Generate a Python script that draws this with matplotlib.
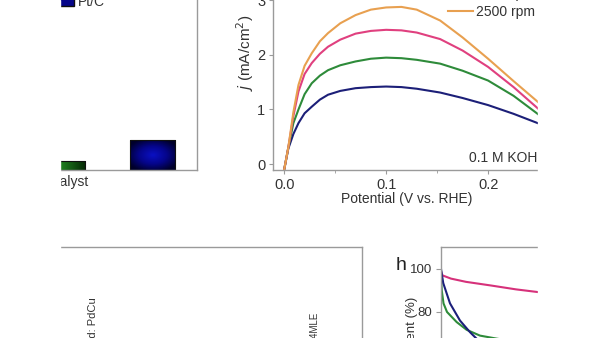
import numpy as np
import matplotlib
matplotlib.use("Agg")
import matplotlib.pyplot as plt
from matplotlib.patches import Rectangle, Patch
from matplotlib.colors import LinearSegmentedColormap

plt.rcParams['font.family'] = ['Liberation Sans', 'DejaVu Sans']

# bar panel (left, mostly cropped)
catalysts = ['PdCu/C', 'Pt/C']
activity = [0.045, 0.15]
bar_colors = ['#1f7a1f', '#06068a']

# RDE polarisation curves (top right)
potential = [0, 0.004, 0.009, 0.014, 0.02, 0.027, 0.035, 0.043, 0.055, 0.07,
             0.085, 0.1, 0.115, 0.13, 0.153, 0.175, 0.2, 0.225, 0.25]
j_400 = [-0.1, 0.28, 0.55, 0.75, 0.93, 1.05, 1.18, 1.27, 1.34, 1.39,
         1.41, 1.42, 1.41, 1.38, 1.31, 1.21, 1.08, 0.92, 0.74]
j_900 = [-0.1, 0.3, 0.75, 1.0, 1.28, 1.48, 1.62, 1.72, 1.81, 1.88,
         1.93, 1.95, 1.94, 1.91, 1.84, 1.71, 1.53, 1.25, 0.9]
j_1600 = [-0.1, 0.3, 0.88, 1.33, 1.65, 1.85, 2.02, 2.15, 2.28, 2.39,
          2.44, 2.46, 2.45, 2.41, 2.29, 2.08, 1.78, 1.41, 1.0]
j_2500 = [-0.1, 0.3, 0.95, 1.45, 1.8, 2.03, 2.25, 2.4, 2.58, 2.73,
          2.83, 2.87, 2.88, 2.83, 2.63, 2.32, 1.93, 1.52, 1.12]
rpm_labels = ['400 rpm', '900 rpm', '1600 rpm', '2500 rpm']
rpm_colors = ['#1c1f78', '#2e8b3a', '#e0407f', '#e8a050']

# stability curves (bottom right)
t_pink = [0, 300, 2000, 5000, 10000, 15000, 19200, 22000]
cur_pink = [99, 97, 95.5, 94, 92.3, 90.5, 89.3, 88.6]
t_navy = [0, 450, 1800, 3800, 5800, 7100, 9000]
cur_navy = [100, 93.4, 84, 76, 70.6, 67.6, 64]
t_green = [0, 150, 500, 1200, 3130, 5130, 7800, 11130, 14000]
cur_green = [97, 90, 84, 80, 75.3, 71.7, 69, 67.6, 66.5]

W, H = 600, 338
fig = plt.figure(figsize=(6, 3.38), dpi=100)


def box(l, t, r, b):
    # pixel box -> figure fraction
    return [l / W, 1 - b / H, (r - l) / W, (b - t) / H]


def fy(py):
    return 1 - py / H


grey = '#9a9a9a'
txt = '#333333'


def style(ax):
    for s in ax.spines.values():
        s.set_color(grey)
        s.set_linewidth(1.0)
    ax.tick_params(colors=grey, labelcolor=txt, direction='out', length=3)


# ---- bar panel ----
ax1 = fig.add_axes(box(10, -30, 197, 170))
style(ax1)
xpos = np.arange(len(catalysts))
bars = ax1.bar(xpos, activity, width=0.5, color=bar_colors,
               edgecolor='#101010', linewidth=0.8, zorder=2)
handles = [Patch(facecolor=c, edgecolor='#101010', label=n)
           for c, n in zip(bar_colors, catalysts)]
cmaps = [LinearSegmentedColormap.from_list('g', ['#3fa83f', '#1f7a1f', '#052805']),
         LinearSegmentedColormap.from_list('b', ['#0a10c0', '#05058a', '#00002a'])]
for i, b in enumerate(bars):
    x0, y0, w, h = b.get_x(), b.get_y(), b.get_width(), b.get_height()
    if i == 0:
        grad = np.linspace(0, 1, 64)[None, :]
    else:
        xx, yy = np.meshgrid(np.linspace(-1, 1, 64), np.linspace(-1, 1, 32))
        grad = np.clip(np.sqrt(xx ** 2 + yy ** 2) / 1.2, 0, 1)
    ax1.imshow(grad, extent=[x0, x0 + w, y0, y0 + h], cmap=cmaps[i],
               aspect='auto', zorder=1.5, clip_path=b, clip_on=True)
    b.set_facecolor('none')
ax1.set_xlim(-0.583, 1.494)
ax1.set_ylim(0, 1.0)
ax1.set_xticks([])
ax1.set_yticks([])
ax1.legend(handles=handles, loc='lower left', bbox_to_anchor=(55 / W, fy(9)),
           bbox_transform=fig.transFigure, frameon=False, borderpad=0,
           borderaxespad=0, handlelength=1.4, handleheight=0.8,
           handletextpad=0.25, labelspacing=0.3, fontsize=10,
           labelcolor=txt)
fig.text(38 / W, fy(182), 'Catalyst', ha='left', va='center', fontsize=10,
         color=txt)

# ---- polarisation panel ----
ax2 = fig.add_axes(box(273, -16, 590, 170))
style(ax2)
for jj, lab, c in zip([j_400, j_900, j_1600, j_2500], rpm_labels, rpm_colors):
    ax2.plot(potential, jj, color=c, lw=1.5, label=lab)
ax2.set_xlim(-0.011, 0.3)
ax2.set_ylim(-0.11, 3.3)
ax2.set_xticks([0, 0.1, 0.2])
ax2.set_xticklabels(['0.0', '0.1', '0.2'])
ax2.set_xticks([0.05, 0.15, 0.25], minor=True)
ax2.set_yticks([0, 1, 2, 3])
ax2.tick_params(which='minor', colors=grey, direction='out', length=2)
ax2.tick_params(labelsize=10.5, pad=2.5)
ax2.legend(loc='lower left', bbox_to_anchor=(448 / W, fy(19)),
           bbox_transform=fig.transFigure, frameon=False, borderpad=0,
           borderaxespad=0, handlelength=1.8, handletextpad=0.25,
           labelspacing=0.3, fontsize=10, labelcolor=txt)
fig.text(407 / W, fy(199), 'Potential (V vs. RHE)', ha='center',
         va='center', fontsize=10, color=txt)
fig.text(245 / W, fy(91), r'$j$ (mA/cm$^2$)', rotation=90, ha='center',
         va='bottom', fontsize=11, color=txt)
fig.text(537 / W, fy(158), '0.1 M KOH', ha='right', va='center',
         fontsize=10, color=txt)

# ---- bottom left box ----
ax3 = fig.add_axes(box(20, 247, 362, 430))
style(ax3)
ax3.set_xticks([])
ax3.set_yticks([])
fig.text(93 / W, fy(297), 'Pd: PdCu', rotation=90, ha='center', va='top',
         fontsize=8, color=txt)
fig.text(314 / W, fy(312), 'PdCu4MLE', rotation=90, ha='center', va='top',
         fontsize=7, color=txt)

# ---- stability panel ----
ax4 = fig.add_axes(box(441, 247, 641, 438))
style(ax4)
ax4.plot(t_pink, cur_pink, color='#d6317a', lw=1.5)
ax4.plot(t_green, cur_green, color='#2e8b3a', lw=1.5)
ax4.plot(t_navy, cur_navy, color='#1b1f7a', lw=1.5)
ax4.set_xlim(0, 40000)
ax4.set_ylim(21.4, 110.2)
ax4.set_xticks([])
ax4.set_yticks([40, 60, 80, 100])
ax4.tick_params(labelsize=9.5, length=3.5, pad=3)
fig.text(401 / W, fy(265), 'h', ha='center', va='center', fontsize=14,
         color='#222222')
fig.text(412 / W, fy(297), 'Relative current (%)', rotation=90, ha='center',
         va='top', fontsize=9.5, color=txt)

# crop edges of the original screenshot
fig.add_artist(Rectangle((0, 0), 60 / W, 1, transform=fig.transFigure,
                         color='white', zorder=20))
fig.add_artist(Rectangle((538 / W, 0), 1, 1, transform=fig.transFigure,
                         color='white', zorder=20))

fig.savefig('out.png', dpi=100)
